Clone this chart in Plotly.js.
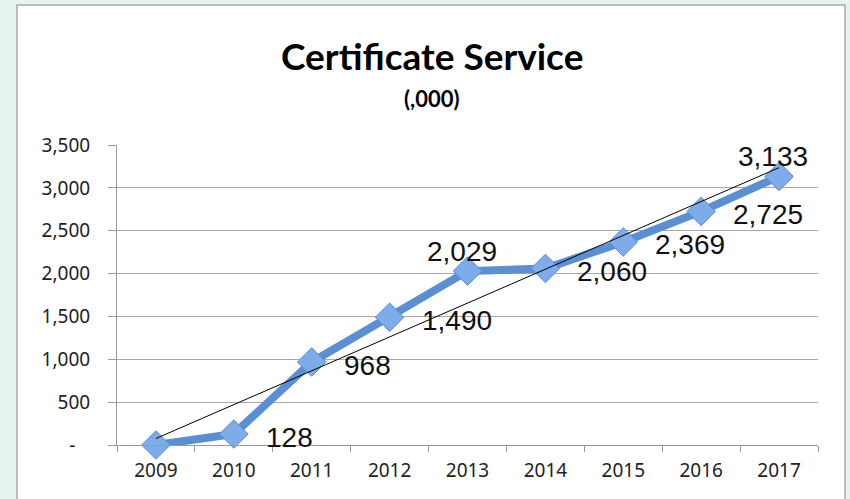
<!DOCTYPE html>
<html><head><meta charset="utf-8">
<script src="https://cdn.plot.ly/plotly-3.0.1.min.js"></script>
<style>html,body{margin:0;padding:0;background:#e7f3f0;}</style>
</head><body>
<div id="chart" style="width:850px;height:499px;"></div>
<script>
const years = ["2009","2010","2011","2012","2013","2014","2015","2016","2017"];
const values = [0, 128, 968, 1490, 2029, 2060, 2369, 2725, 3133];
const labelSide = ["none","right","right","right","top","right","right","right","top"];
const yTickVals = [0, 500, 1000, 1500, 2000, 2500, 3000, 3500];
const yTickText = ["-\u00a0\u00a0\u00a0", "500", "1,000", "1,500", "2,000", "2,500", "3,000", "3,500"];

// least-squares linear trendline over category index
const n = values.length;
const xs = values.map((_, i) => i);
const mx = xs.reduce((a, b) => a + b, 0) / n;
const my = values.reduce((a, b) => a + b, 0) / n;
let sxy = 0, sxx = 0;
xs.forEach((x, i) => { sxy += (x - mx) * (values[i] - my); sxx += (x - mx) * (x - mx); });
const slope = sxy / sxx, icpt = my - slope * mx;
const trendY = [icpt, icpt + slope * (n - 1)];
const trendX = [years[0], years[n - 1]];

const fmt = v => v.toLocaleString("en-US");
const labFont = {family: "Liberation Sans, Arial", size: 28, color: "#111"};
const annotations = [];
years.forEach((yr, i) => {
  if (labelSide[i] === "none") return;
  if (labelSide[i] === "right") {
    annotations.push({x: i, y: values[i], xref: "x", yref: "y", text: fmt(values[i]),
      showarrow: false, xanchor: "left", yanchor: "middle", xshift: 30, yshift: -3, font: labFont});
  } else {
    annotations.push({x: i, y: values[i], xref: "x", yref: "y", text: fmt(values[i]),
      showarrow: false, xanchor: "center", yanchor: "bottom", xshift: -6, yshift: 2, font: labFont});
  }
});
annotations.push({xref: "paper", yref: "paper", x: 0.5, y: 1, yanchor: "bottom", showarrow: false,
  text: "<b>Certificate Service</b>", yshift: 65, xshift: -36,
  font: {family: "Lato, Open Sans", size: 37, color: "#000"}});
annotations.push({xref: "paper", yref: "paper", x: 0.5, y: 1, yanchor: "bottom", showarrow: false,
  text: "<b>(,000)</b>", yshift: 31, xshift: -36,
  font: {family: "Lato, Open Sans", size: 22, color: "#000"}});

const traces = [
  {x: years, y: values, type: "scatter", mode: "lines+markers", cliponaxis: false,
   line: {color: "#5b8fd4", width: 8},
   marker: {symbol: "diamond", size: 22, color: "#7eacea", line: {color: "#5a8cd2", width: 1}},
   hoverinfo: "none"},
  {x: trendX, y: trendY, type: "scatter", mode: "lines", cliponaxis: false,
   line: {color: "#000", width: 1}, hoverinfo: "none"}
];

const tickFont = {family: "Noto Sans, Open Sans", size: 19, color: "#222"};
const layout = {
  width: 850, height: 499,
  paper_bgcolor: "#e7f3f0", plot_bgcolor: "#ffffff",
  margin: {l: 117, r: 32, t: 145, b: 54},
  showlegend: false,
  shapes: [{type: "rect", xref: "paper", yref: "paper", layer: "below",
    x0: -100/701, x1: 728/701, y0: -60/300, y1: 440/300,
    fillcolor: "#ffffff", line: {color: "#b8bcbb", width: 2}}],
  xaxis: {type: "category", range: [-0.5, 8.5], tickson: "boundaries",
    ticks: "outside", ticklen: 6, tickcolor: "#999", showline: true, linecolor: "#999",
    showgrid: false, ticklabelstandoff: 8, tickfont: tickFont},
  yaxis: {range: [0, 3500], tickvals: yTickVals, ticktext: yTickText,
    ticks: "outside", ticklen: 8, tickcolor: "#999", showline: true, linecolor: "#999",
    showgrid: true, gridcolor: "#a8a8a8", gridwidth: 1, zeroline: false,
    ticklabelstandoff: 14, tickfont: tickFont},
  annotations: annotations
};
Plotly.newPlot("chart", traces, layout, {staticPlot: true, displayModeBar: false});
</script>
</body></html>
